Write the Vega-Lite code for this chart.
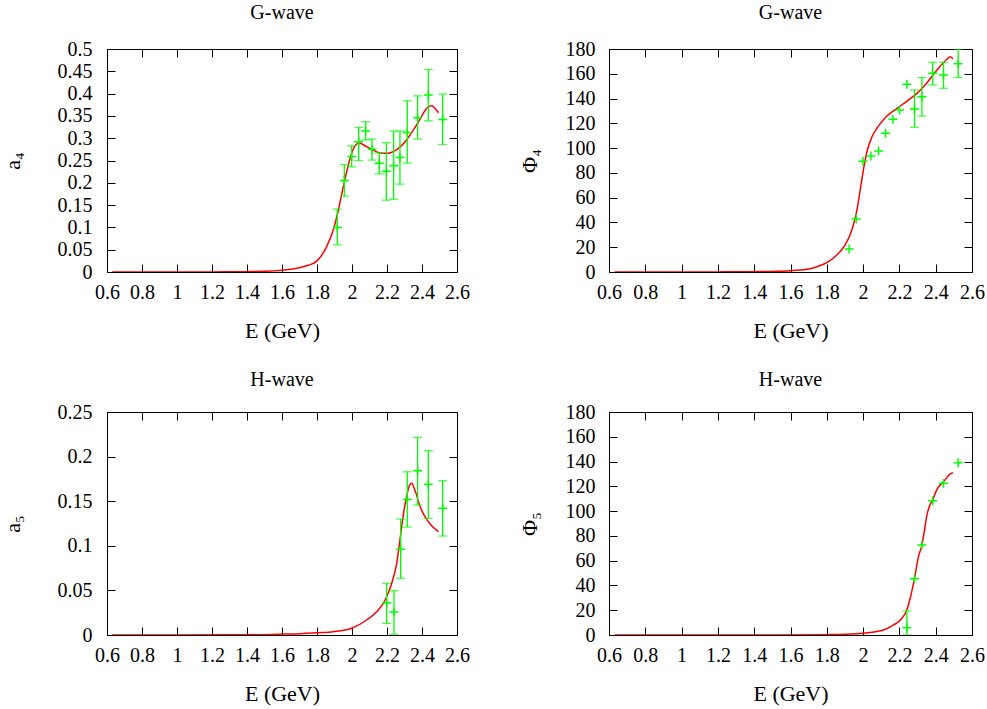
{
"$schema": "https://vega.github.io/schema/vega-lite/v6.json",
"autosize": {"type": "pad"},
"padding": {"left": 0, "top": 2, "right": 2, "bottom": 6},
"background": "white",
"config": {
  "view": {"stroke": "black", "strokeWidth": 1},
  "axis": {"domain": false, "grid": false, "tickColor": "black", "tickSize": -8, "tickWidth": 1, "labelFont": "Liberation Serif", "labelFontSize": 20, "labelColor": "black", "labelFlush": false, "labelOverlap": false, "titleFont": "Liberation Serif", "titleFontSize": 22, "titleFontWeight": "normal", "titleColor": "black"},
  "title": {"font": "Liberation Serif", "fontSize": 20, "fontWeight": "normal", "color": "black", "anchor": "middle", "baseline": "alphabetic"}
},
"datasets": {
  "curve": [
    {"p":"a4","E":0.63,"v":0},{"p":"a4","E":0.8,"v":0},{"p":"a4","E":1.0,"v":0},{"p":"a4","E":1.2,"v":0.0002},{"p":"a4","E":1.4,"v":0.0008},{"p":"a4","E":1.5,"v":0.0015},{"p":"a4","E":1.6,"v":0.004},{"p":"a4","E":1.7,"v":0.0095},{"p":"a4","E":1.75,"v":0.015},{"p":"a4","E":1.8,"v":0.025},{"p":"a4","E":1.855,"v":0.057},{"p":"a4","E":1.893,"v":0.094},{"p":"a4","E":1.922,"v":0.139},{"p":"a4","E":1.95,"v":0.191},{"p":"a4","E":1.979,"v":0.24},{"p":"a4","E":1.998,"v":0.266},{"p":"a4","E":2.017,"v":0.283},{"p":"a4","E":2.042,"v":0.289},{"p":"a4","E":2.074,"v":0.283},{"p":"a4","E":2.112,"v":0.275},{"p":"a4","E":2.16,"v":0.267},{"p":"a4","E":2.198,"v":0.266},{"p":"a4","E":2.236,"v":0.27},{"p":"a4","E":2.274,"v":0.28},{"p":"a4","E":2.312,"v":0.296},{"p":"a4","E":2.35,"v":0.318},{"p":"a4","E":2.389,"v":0.343},{"p":"a4","E":2.427,"v":0.367},{"p":"a4","E":2.455,"v":0.373},{"p":"a4","E":2.474,"v":0.367},{"p":"a4","E":2.494,"v":0.357},
    {"p":"f4","E":0.63,"v":0},{"p":"f4","E":1.0,"v":0},{"p":"f4","E":1.2,"v":0.1},{"p":"f4","E":1.4,"v":0.3},{"p":"f4","E":1.5,"v":0.5},{"p":"f4","E":1.6,"v":1.0},{"p":"f4","E":1.653,"v":1.6},{"p":"f4","E":1.7,"v":2.5},{"p":"f4","E":1.75,"v":4.5},{"p":"f4","E":1.8,"v":7.5},{"p":"f4","E":1.855,"v":13.7},{"p":"f4","E":1.901,"v":21.8},{"p":"f4","E":1.938,"v":33.9},{"p":"f4","E":1.966,"v":50},{"p":"f4","E":1.984,"v":66.2},{"p":"f4","E":2.003,"v":83.7},{"p":"f4","E":2.021,"v":97.1},{"p":"f4","E":2.049,"v":109.2},{"p":"f4","E":2.085,"v":117.9},{"p":"f4","E":2.131,"v":125.9},{"p":"f4","E":2.187,"v":132.1},{"p":"f4","E":2.242,"v":138},{"p":"f4","E":2.297,"v":144.2},{"p":"f4","E":2.352,"v":152.8},{"p":"f4","E":2.407,"v":163.1},{"p":"f4","E":2.462,"v":171.7},{"p":"f4","E":2.481,"v":173.8},{"p":"f4","E":2.495,"v":172},
    {"p":"a5","E":0.63,"v":0},{"p":"a5","E":1.0,"v":0},{"p":"a5","E":1.4,"v":0.0003},{"p":"a5","E":1.6,"v":0.001},{"p":"a5","E":1.703,"v":0.0015},{"p":"a5","E":1.8,"v":0.0025},{"p":"a5","E":1.893,"v":0.0037},{"p":"a5","E":1.998,"v":0.0075},{"p":"a5","E":2.084,"v":0.0168},{"p":"a5","E":2.141,"v":0.026},{"p":"a5","E":2.189,"v":0.039},{"p":"a5","E":2.227,"v":0.058},{"p":"a5","E":2.255,"v":0.08},{"p":"a5","E":2.274,"v":0.1065},{"p":"a5","E":2.293,"v":0.1345},{"p":"a5","E":2.312,"v":0.155},{"p":"a5","E":2.327,"v":0.167},{"p":"a5","E":2.341,"v":0.17},{"p":"a5","E":2.36,"v":0.162},{"p":"a5","E":2.389,"v":0.144},{"p":"a5","E":2.417,"v":0.1326},{"p":"a5","E":2.455,"v":0.1225},{"p":"a5","E":2.494,"v":0.116},
    {"p":"f5","E":0.63,"v":0},{"p":"f5","E":1.5,"v":0},{"p":"f5","E":1.8,"v":0.3},{"p":"f5","E":1.9,"v":0.6},{"p":"f5","E":2.003,"v":1.5},{"p":"f5","E":2.113,"v":4},{"p":"f5","E":2.168,"v":8.1},{"p":"f5","E":2.205,"v":12.1},{"p":"f5","E":2.241,"v":20.2},{"p":"f5","E":2.268,"v":35},{"p":"f5","E":2.283,"v":45.5},{"p":"f5","E":2.305,"v":63.2},{"p":"f5","E":2.324,"v":72.6},{"p":"f5","E":2.337,"v":83.4},{"p":"f5","E":2.352,"v":97},{"p":"f5","E":2.366,"v":104.1},{"p":"f5","E":2.383,"v":109},{"p":"f5","E":2.407,"v":117.6},{"p":"f5","E":2.443,"v":123.7},{"p":"f5","E":2.48,"v":130},{"p":"f5","E":2.495,"v":131}
  ],
  "pts": [
    {"p":"a4","E":1.916,"v":0.1,"lo":0.061,"hi":0.141},
    {"p":"a4","E":1.956,"v":0.205,"lo":0.17,"hi":0.241},
    {"p":"a4","E":1.998,"v":0.259,"lo":0.236,"hi":0.283},
    {"p":"a4","E":2.038,"v":0.292,"lo":0.25,"hi":0.324},
    {"p":"a4","E":2.078,"v":0.316,"lo":0.296,"hi":0.337},
    {"p":"a4","E":2.114,"v":0.275,"lo":0.251,"hi":0.298},
    {"p":"a4","E":2.156,"v":0.244,"lo":0.22,"hi":0.267},
    {"p":"a4","E":2.196,"v":0.226,"lo":0.161,"hi":0.29},
    {"p":"a4","E":2.238,"v":0.238,"lo":0.163,"hi":0.316},
    {"p":"a4","E":2.274,"v":0.257,"lo":0.197,"hi":0.316},
    {"p":"a4","E":2.316,"v":0.313,"lo":0.244,"hi":0.384},
    {"p":"a4","E":2.375,"v":0.346,"lo":0.298,"hi":0.395},
    {"p":"a4","E":2.436,"v":0.397,"lo":0.339,"hi":0.454},
    {"p":"a4","E":2.518,"v":0.342,"lo":0.286,"hi":0.399},
    {"p":"f4","E":1.923,"v":18.6,"lo":null,"hi":null},
    {"p":"f4","E":1.962,"v":42.8,"lo":null,"hi":null},
    {"p":"f4","E":1.999,"v":89.3,"lo":null,"hi":null},
    {"p":"f4","E":2.043,"v":93.6,"lo":null,"hi":null},
    {"p":"f4","E":2.085,"v":97.7,"lo":null,"hi":null},
    {"p":"f4","E":2.124,"v":111.9,"lo":null,"hi":null},
    {"p":"f4","E":2.164,"v":123.2,"lo":null,"hi":null},
    {"p":"f4","E":2.201,"v":130.8,"lo":null,"hi":null},
    {"p":"f4","E":2.241,"v":151.5,"lo":null,"hi":null},
    {"p":"f4","E":2.283,"v":131.6,"lo":116.8,"hi":146.9},
    {"p":"f4","E":2.324,"v":141.5,"lo":125.9,"hi":156.9},
    {"p":"f4","E":2.383,"v":160.4,"lo":151,"hi":169.3},
    {"p":"f4","E":2.443,"v":159,"lo":148.3,"hi":169.3},
    {"p":"f4","E":2.524,"v":168,"lo":157,"hi":180},
    {"p":"a5","E":2.198,"v":0.0362,"lo":0.013,"hi":0.058},
    {"p":"a5","E":2.24,"v":0.0258,"lo":0.0008,"hi":0.0497},
    {"p":"a5","E":2.278,"v":0.096,"lo":0.0635,"hi":0.13},
    {"p":"a5","E":2.316,"v":0.152,"lo":0.121,"hi":0.183},
    {"p":"a5","E":2.375,"v":0.184,"lo":0.1457,"hi":0.2216},
    {"p":"a5","E":2.436,"v":0.169,"lo":0.1308,"hi":0.2066},
    {"p":"a5","E":2.518,"v":0.142,"lo":0.111,"hi":0.173},
    {"p":"f5","E":2.241,"v":5.9,"lo":0,"hi":19.4},
    {"p":"f5","E":2.283,"v":45.5,"lo":null,"hi":null},
    {"p":"f5","E":2.324,"v":72.6,"lo":null,"hi":null},
    {"p":"f5","E":2.383,"v":108.4,"lo":null,"hi":null},
    {"p":"f5","E":2.443,"v":122.4,"lo":null,"hi":null},
    {"p":"f5","E":2.524,"v":139,"lo":null,"hi":null}
  ]
},
"spacing": 363,
"bounds": "flush",
"vconcat": [
  {"hconcat": [
    {"width": 350, "height": 223, "title": {"text": "G-wave", "offset": 16},
     "layer": [
      {"data": {"name": "curve"}, "transform": [{"filter": "datum.p === 'a4'"}], "mark": {"type": "line", "color": "#ff0000", "strokeWidth": 1.5, "interpolate": "monotone", "clip": true},
       "encoding": {"x": {"field": "E", "type": "quantitative", "scale": {"domain": [0.6, 2.6], "nice": false, "zero": false}, "axis": {"orient": "bottom", "values": [0.6,0.8,1,1.2,1.4,1.6,1.8,2,2.2,2.4,2.6], "format": ".1~f", "labelPadding": 18, "title": "E (GeV)", "titleX": 175, "titleY": 58, "titleBaseline": "middle", "titleAlign": "center"}},
                    "y": {"field": "v", "type": "quantitative", "scale": {"domain": [0, 0.5], "nice": false}, "axis": {"orient": "left", "values": [0,0.05,0.1,0.15,0.2,0.25,0.3,0.35,0.4,0.45,0.5], "format": ".2~f", "labelPadding": 23, "title": "a₄", "titleX": -95, "titleY": 111.5, "titleAngle": -90, "titleAlign": "center", "titleBaseline": "middle"}}}},
      {"data": {"name": "pts"}, "transform": [{"filter": "datum.p === 'a4'"}], "mark": {"type": "rule", "color": "#00ff00", "strokeWidth": 1.3, "clip": true},
       "encoding": {"x": {"field": "E", "type": "quantitative", "axis": null}, "y": {"field": "lo", "type": "quantitative", "axis": null}, "y2": {"field": "hi"}}},
      {"data": {"name": "pts"}, "transform": [{"filter": "datum.p === 'a4'"}], "mark": {"type": "tick", "orient": "horizontal", "color": "#00ff00", "size": 9, "thickness": 1.3, "clip": true},
       "encoding": {"x": {"field": "E", "type": "quantitative", "axis": null}, "y": {"field": "lo", "type": "quantitative", "axis": null}}},
      {"data": {"name": "pts"}, "transform": [{"filter": "datum.p === 'a4'"}], "mark": {"type": "tick", "orient": "horizontal", "color": "#00ff00", "size": 9, "thickness": 1.3, "clip": true},
       "encoding": {"x": {"field": "E", "type": "quantitative", "axis": null}, "y": {"field": "hi", "type": "quantitative", "axis": null}}},
      {"data": {"name": "pts"}, "transform": [{"filter": "datum.p === 'a4'"}], "mark": {"type": "point", "shape": "M-1,0L1,0M0,-1L0,1", "size": 80, "filled": false, "color": "#00ff00", "strokeWidth": 1.5, "opacity": 1, "clip": true},
       "encoding": {"x": {"field": "E", "type": "quantitative", "axis": {"orient": "top", "values": [0.6,0.8,1,1.2,1.4,1.6,1.8,2,2.2,2.4,2.6], "labels": false, "title": null}},
                    "y": {"field": "v", "type": "quantitative", "axis": {"orient": "right", "values": [0,0.05,0.1,0.15,0.2,0.25,0.3,0.35,0.4,0.45,0.5], "labels": false, "title": null}}}}
     ],
     "resolve": {"axis": {"x": "independent", "y": "independent"}}},
    {"width": 363, "height": 223, "title": {"text": "G-wave", "offset": 16},
     "layer": [
      {"data": {"name": "curve"}, "transform": [{"filter": "datum.p === 'f4'"}], "mark": {"type": "line", "color": "#ff0000", "strokeWidth": 1.5, "interpolate": "monotone", "clip": true},
       "encoding": {"x": {"field": "E", "type": "quantitative", "scale": {"domain": [0.6, 2.6], "nice": false, "zero": false}, "axis": {"orient": "bottom", "values": [0.6,0.8,1,1.2,1.4,1.6,1.8,2,2.2,2.4,2.6], "format": ".1~f", "labelPadding": 18, "title": "E (GeV)", "titleX": 181.5, "titleY": 58, "titleBaseline": "middle", "titleAlign": "center"}},
                    "y": {"field": "v", "type": "quantitative", "scale": {"domain": [0, 180], "nice": false}, "axis": {"orient": "left", "values": [0,20,40,60,80,100,120,140,160,180], "format": "d", "labelPadding": 22, "title": "Φ₄", "titleX": -80, "titleY": 111.5, "titleAngle": -90, "titleAlign": "center", "titleBaseline": "middle"}}}},
      {"data": {"name": "pts"}, "transform": [{"filter": "datum.p === 'f4'"}], "mark": {"type": "rule", "color": "#00ff00", "strokeWidth": 1.3, "clip": true},
       "encoding": {"x": {"field": "E", "type": "quantitative", "axis": null}, "y": {"field": "lo", "type": "quantitative", "axis": null}, "y2": {"field": "hi"}}},
      {"data": {"name": "pts"}, "transform": [{"filter": "datum.p === 'f4'"}], "mark": {"type": "tick", "orient": "horizontal", "color": "#00ff00", "size": 9, "thickness": 1.3, "clip": true},
       "encoding": {"x": {"field": "E", "type": "quantitative", "axis": null}, "y": {"field": "lo", "type": "quantitative", "axis": null}}},
      {"data": {"name": "pts"}, "transform": [{"filter": "datum.p === 'f4'"}], "mark": {"type": "tick", "orient": "horizontal", "color": "#00ff00", "size": 9, "thickness": 1.3, "clip": true},
       "encoding": {"x": {"field": "E", "type": "quantitative", "axis": null}, "y": {"field": "hi", "type": "quantitative", "axis": null}}},
      {"data": {"name": "pts"}, "transform": [{"filter": "datum.p === 'f4'"}], "mark": {"type": "point", "shape": "M-1,0L1,0M0,-1L0,1", "size": 80, "filled": false, "color": "#00ff00", "strokeWidth": 1.5, "opacity": 1, "clip": true},
       "encoding": {"x": {"field": "E", "type": "quantitative", "axis": {"orient": "top", "values": [0.6,0.8,1,1.2,1.4,1.6,1.8,2,2.2,2.4,2.6], "labels": false, "title": null}},
                    "y": {"field": "v", "type": "quantitative", "axis": {"orient": "right", "values": [0,20,40,60,80,100,120,140,160,180], "labels": false, "title": null}}}}
     ],
     "resolve": {"axis": {"x": "independent", "y": "independent"}}}
  ], "spacing": 152, "bounds": "flush"},
  {"hconcat": [
    {"width": 350, "height": 223, "title": {"text": "H-wave", "offset": 12},
     "layer": [
      {"data": {"name": "curve"}, "transform": [{"filter": "datum.p === 'a5'"}], "mark": {"type": "line", "color": "#ff0000", "strokeWidth": 1.5, "interpolate": "monotone", "clip": true},
       "encoding": {"x": {"field": "E", "type": "quantitative", "scale": {"domain": [0.6, 2.6], "nice": false, "zero": false}, "axis": {"orient": "bottom", "values": [0.6,0.8,1,1.2,1.4,1.6,1.8,2,2.2,2.4,2.6], "format": ".1~f", "labelPadding": 18, "title": "E (GeV)", "titleX": 175, "titleY": 58, "titleBaseline": "middle", "titleAlign": "center"}},
                    "y": {"field": "v", "type": "quantitative", "scale": {"domain": [0, 0.25], "nice": false}, "axis": {"orient": "left", "values": [0,0.05,0.1,0.15,0.2,0.25], "format": ".2~f", "labelPadding": 23, "title": "a₅", "titleX": -95, "titleY": 111.5, "titleAngle": -90, "titleAlign": "center", "titleBaseline": "middle"}}}},
      {"data": {"name": "pts"}, "transform": [{"filter": "datum.p === 'a5'"}], "mark": {"type": "rule", "color": "#00ff00", "strokeWidth": 1.3, "clip": true},
       "encoding": {"x": {"field": "E", "type": "quantitative", "axis": null}, "y": {"field": "lo", "type": "quantitative", "axis": null}, "y2": {"field": "hi"}}},
      {"data": {"name": "pts"}, "transform": [{"filter": "datum.p === 'a5'"}], "mark": {"type": "tick", "orient": "horizontal", "color": "#00ff00", "size": 9, "thickness": 1.3, "clip": true},
       "encoding": {"x": {"field": "E", "type": "quantitative", "axis": null}, "y": {"field": "lo", "type": "quantitative", "axis": null}}},
      {"data": {"name": "pts"}, "transform": [{"filter": "datum.p === 'a5'"}], "mark": {"type": "tick", "orient": "horizontal", "color": "#00ff00", "size": 9, "thickness": 1.3, "clip": true},
       "encoding": {"x": {"field": "E", "type": "quantitative", "axis": null}, "y": {"field": "hi", "type": "quantitative", "axis": null}}},
      {"data": {"name": "pts"}, "transform": [{"filter": "datum.p === 'a5'"}], "mark": {"type": "point", "shape": "M-1,0L1,0M0,-1L0,1", "size": 80, "filled": false, "color": "#00ff00", "strokeWidth": 1.5, "opacity": 1, "clip": true},
       "encoding": {"x": {"field": "E", "type": "quantitative", "axis": {"orient": "top", "values": [0.6,0.8,1,1.2,1.4,1.6,1.8,2,2.2,2.4,2.6], "labels": false, "title": null}},
                    "y": {"field": "v", "type": "quantitative", "axis": {"orient": "right", "values": [0,0.05,0.1,0.15,0.2,0.25], "labels": false, "title": null}}}}
     ],
     "resolve": {"axis": {"x": "independent", "y": "independent"}}},
    {"width": 363, "height": 223, "title": {"text": "H-wave", "offset": 12},
     "layer": [
      {"data": {"name": "curve"}, "transform": [{"filter": "datum.p === 'f5'"}], "mark": {"type": "line", "color": "#ff0000", "strokeWidth": 1.5, "interpolate": "monotone", "clip": true},
       "encoding": {"x": {"field": "E", "type": "quantitative", "scale": {"domain": [0.6, 2.6], "nice": false, "zero": false}, "axis": {"orient": "bottom", "values": [0.6,0.8,1,1.2,1.4,1.6,1.8,2,2.2,2.4,2.6], "format": ".1~f", "labelPadding": 18, "title": "E (GeV)", "titleX": 181.5, "titleY": 58, "titleBaseline": "middle", "titleAlign": "center"}},
                    "y": {"field": "v", "type": "quantitative", "scale": {"domain": [0, 180], "nice": false}, "axis": {"orient": "left", "values": [0,20,40,60,80,100,120,140,160,180], "format": "d", "labelPadding": 22, "title": "Φ₅", "titleX": -80, "titleY": 111.5, "titleAngle": -90, "titleAlign": "center", "titleBaseline": "middle"}}}},
      {"data": {"name": "pts"}, "transform": [{"filter": "datum.p === 'f5'"}], "mark": {"type": "rule", "color": "#00ff00", "strokeWidth": 1.3, "clip": true},
       "encoding": {"x": {"field": "E", "type": "quantitative", "axis": null}, "y": {"field": "lo", "type": "quantitative", "axis": null}, "y2": {"field": "hi"}}},
      {"data": {"name": "pts"}, "transform": [{"filter": "datum.p === 'f5'"}], "mark": {"type": "tick", "orient": "horizontal", "color": "#00ff00", "size": 9, "thickness": 1.3, "clip": true},
       "encoding": {"x": {"field": "E", "type": "quantitative", "axis": null}, "y": {"field": "lo", "type": "quantitative", "axis": null}}},
      {"data": {"name": "pts"}, "transform": [{"filter": "datum.p === 'f5'"}], "mark": {"type": "tick", "orient": "horizontal", "color": "#00ff00", "size": 9, "thickness": 1.3, "clip": true},
       "encoding": {"x": {"field": "E", "type": "quantitative", "axis": null}, "y": {"field": "hi", "type": "quantitative", "axis": null}}},
      {"data": {"name": "pts"}, "transform": [{"filter": "datum.p === 'f5'"}], "mark": {"type": "point", "shape": "M-1,0L1,0M0,-1L0,1", "size": 80, "filled": false, "color": "#00ff00", "strokeWidth": 1.5, "opacity": 1, "clip": true},
       "encoding": {"x": {"field": "E", "type": "quantitative", "axis": {"orient": "top", "values": [0.6,0.8,1,1.2,1.4,1.6,1.8,2,2.2,2.4,2.6], "labels": false, "title": null}},
                    "y": {"field": "v", "type": "quantitative", "axis": {"orient": "right", "values": [0,20,40,60,80,100,120,140,160,180], "labels": false, "title": null}}}}
     ],
     "resolve": {"axis": {"x": "independent", "y": "independent"}}}
  ], "spacing": 152, "bounds": "flush"}
]
}
